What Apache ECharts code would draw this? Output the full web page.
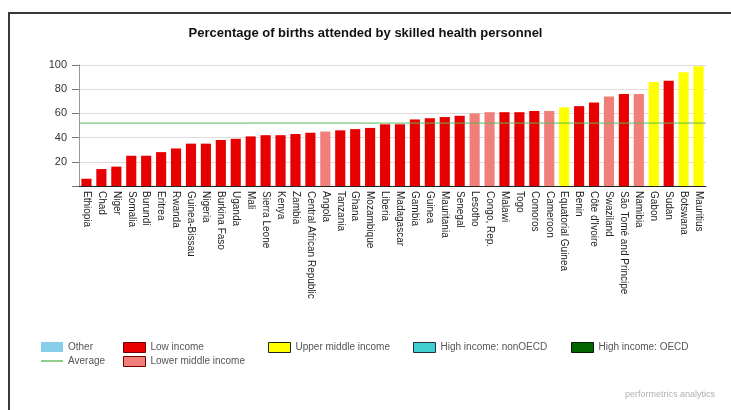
<!DOCTYPE html>
<html>
<head>
<meta charset="utf-8">
<script src="https://cdn.jsdelivr.net/npm/echarts@6/dist/echarts.min.js"></script>
<style>
  html, body { margin: 0; padding: 0; background: #fff; }
  #wrap { position: relative; width: 731px; height: 410px; overflow: hidden; }
  #chart { position: absolute; left: 0; top: 0; width: 731px; height: 410px; }
  #frame { position: absolute; left: 8px; top: 12px; width: 760px; height: 440px;
           border-left: 2px solid #3a3a3a; border-top: 2px solid #3a3a3a; pointer-events: none; }
</style>
</head>
<body>
<div id="wrap">
  <div id="chart"></div>
  <div id="frame"></div>
</div>
<script>
const title = "Percentage of births attended by skilled health personnel";

const categories = ["Ethiopia","Chad","Niger","Somalia","Burundi","Eritrea","Rwanda","Guinea-Bissau","Nigeria","Burkina Faso","Uganda","Mali","Sierra Leone","Kenya","Zambia","Central African Republic","Angola","Tanzania","Ghana","Mozambique","Liberia","Madagascar","Gambia","Guinea","Mauritania","Senegal","Lesotho","Congo, Rep.","Malawi","Togo","Comoros","Cameroon","Equatorial Guinea","Benin","Côte d'Ivoire","Swaziland","São Tomé and Principe","Namibia","Gabon","Sudan","Botswana","Mauritius"];

const values = [6,14,16,25,25,28,31,35,35,38,39,41,42,42,43,44,45,46,47,48,51,51,55,56,57,58,60,61,61,61,62,62,65,66,69,74,76,76,86,87,94,99];

const incomeGroup = ["L","L","L","L","L","L","L","L","L","L","L","L","L","L","L","L","M","L","L","L","L","L","L","L","L","L","M","M","L","L","L","M","U","L","L","M","L","M","U","L","U","U"];

const groupNames = {
  O: "Other",
  L: "Low income",
  M: "Lower middle income",
  U: "Upper middle income",
  H: "High income: nonOECD",
  D: "High income: OECD"
};
const groupColors = { O: "#87ceeb", L: "#e80000", M: "#f07f7a", U: "#ffff00", H: "#40cfd0", D: "#006400" };

const averageValue = 52;
const yTicks = [0, 20, 40, 60, 80, 100];

const chart = echarts.init(document.getElementById('chart'), null, { renderer: 'canvas' });

const avgColor = '#5cb85c';

const groupOrder = ["O", "L", "M", "U", "H", "D"];
const barSeries = groupOrder.map(g => ({
  name: groupNames[g],
  type: 'bar',
  stack: 'all',
  barWidth: '68%',
  itemStyle: { color: groupColors[g] },
  data: values.map((v, i) => incomeGroup[i] === g ? v : '-')
}));

const avgSeries = {
  name: 'Average',
  type: 'line',
  xAxisIndex: 1,
  symbol: 'none',
  z: 5,
  silent: true,
  color: avgColor,
  lineStyle: { color: avgColor, width: 1 },
  itemStyle: { color: avgColor },
  data: [[0, averageValue], [1, averageValue]]
};

const fam = 'Liberation Sans, Arial, sans-serif';

function legendFor(name, left, top, style, extra) {
  return Object.assign({
    data: [{ name: name, icon: 'rect' }],
    left: left, top: top,
    itemWidth: 22, itemHeight: 10,
    itemGap: 0,
    padding: 0,
    selectedMode: false,
    textStyle: { fontFamily: fam, fontSize: 10, color: '#555' },
    itemStyle: style
  }, extra || {});
}

chart.setOption({
  animation: false,
  backgroundColor: '#ffffff',
  graphic: [
    { type: 'text', left: 'center', top: 27, style: { text: title, fontFamily: fam, fontWeight: 'bold', fontSize: 13, fill: '#111' } },
    { type: 'text', right: 16, top: 390, style: { text: 'performetrics analytics', fontFamily: fam, fontSize: 9, fill: '#b0b0b0' } }
  ],
  legend: [
    legendFor('Other', 41, 342, { color: groupColors.O, borderWidth: 0 }),
    {
      data: [{ name: 'Average', icon: 'rect' }],
      left: 41, top: 356, itemWidth: 22, itemHeight: 2, itemGap: 0, padding: 0, selectedMode: false,
      textStyle: { fontFamily: fam, fontSize: 10, color: '#555' },
      itemStyle: { color: '#8fd08f', borderWidth: 0 }
    },
    legendFor('Low income', 123, 342, { color: groupColors.L, borderColor: '#700000', borderWidth: 1 }),
    legendFor('Lower middle income', 123, 356, { color: groupColors.M, borderColor: '#700000', borderWidth: 1 }),
    legendFor('Upper middle income', 268, 342, { color: groupColors.U, borderColor: '#222', borderWidth: 1 }),
    legendFor('High income: nonOECD', 413, 342, { color: groupColors.H, borderColor: '#203040', borderWidth: 1 }),
    legendFor('High income: OECD', 571, 342, { color: groupColors.D, borderColor: '#002000', borderWidth: 1 })
  ],
  grid: { left: 79, right: 25, top: 65, bottom: 224, containLabel: false },
  xAxis: [{
    type: 'category',
    data: categories,
    axisLine: { lineStyle: { color: '#222', width: 1 } },
    axisTick: { alignWithLabel: true, length: 4, interval: function (i) { return i % 10 === 9; }, lineStyle: { color: '#222' } },
    axisLabel: { rotate: -90, interval: 0, margin: 5, fontFamily: fam, fontSize: 10, color: '#222' }
  }, {
    type: 'value', min: 0, max: 1, show: false
  }],
  yAxis: {
    type: 'value',
    min: yTicks[0], max: yTicks[yTicks.length - 1], interval: yTicks[1] - yTicks[0],
    axisLine: { show: true, lineStyle: { color: '#999' } },
    axisTick: { show: true, length: 7, lineStyle: { color: '#777' } },
    axisLabel: { margin: 12, fontFamily: fam, fontSize: 11, color: '#333', formatter: function (v) { return v === 0 ? '' : String(v); } },
    splitLine: { lineStyle: { color: '#dcdcdc' } }
  },
  series: barSeries.concat([avgSeries])
});
</script>
</body>
</html>
